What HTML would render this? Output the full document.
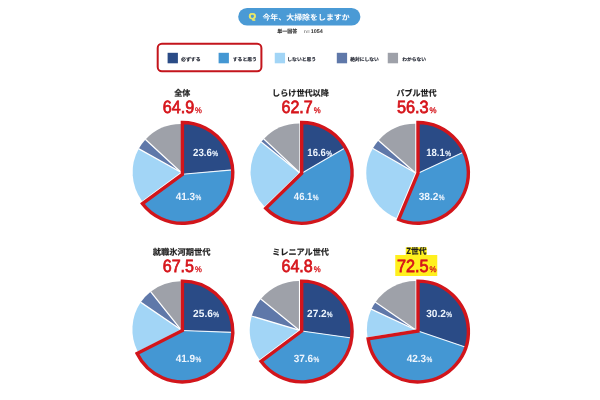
<!DOCTYPE html>
<html lang="ja"><head><meta charset="utf-8"><title>今年、大掃除をしますか</title>
<style>
html,body{margin:0;padding:0;background:#fff;}
svg{display:block}
text{font-family:"Liberation Sans","Noto Sans CJK JP",sans-serif;text-rendering:geometricPrecision;}
.jp{font-family:"Noto Sans CJK JP","Liberation Sans",sans-serif;font-weight:700;}
.q{font-weight:700;font-size:8.2px;fill:#f2ec62;stroke:#f2ec62;stroke-width:0.5px;stroke-linejoin:round}
.hd{font-size:7.6px;fill:#fff}
.sub{font-size:5px;fill:#333;font-weight:700;stroke:#333;stroke-width:0.12px}
.sub2{font-size:4.8px;fill:#555;font-weight:400}
.sub3{font-size:5.3px;fill:#333;font-weight:700}
.lg{font-size:4.8px;fill:#262a36;stroke:#262a36;stroke-width:0.15px}
.tt{font-size:8.3px;fill:#1e1e1e;stroke:#1e1e1e;stroke-width:0.2px}
.big{font-weight:400;font-size:17.8px;fill:#d6151b;stroke:#d6151b;stroke-width:0.75px}
.bp{font-weight:400;font-size:8.2px;fill:#d6151b;stroke:#d6151b;stroke-width:0.3px}
.lb{font-weight:700;font-size:10.5px;fill:#eef5fd}
.lp{font-weight:400;font-size:7.5px;fill:#e6f0fb;stroke:#e6f0fb;stroke-width:0.3px}
</style></head><body>
<svg width="600" height="400" viewBox="0 0 600 400">
<rect width="600" height="400" fill="#fff"/>
<rect x="238.2" y="7.9" width="122.2" height="17.7" rx="8.85" fill="#4a9ad5"/>
<text class="q" x="248.77" y="18.52" textLength="7.26" lengthAdjust="spacingAndGlyphs">Q</text>
<text class="jp hd" x="262.45" y="19.75" textLength="87.23" lengthAdjust="spacingAndGlyphs">今年、大掃除をしますか</text>
<text class="jp sub" x="277.35" y="32.80" textLength="19.96" lengthAdjust="spacingAndGlyphs">単一回答</text>
<text class="sub2" x="303.78" y="33.20" textLength="6.34" lengthAdjust="spacingAndGlyphs">n=</text>
<text class="sub3" x="310.81" y="33.20" textLength="12.10" lengthAdjust="spacingAndGlyphs">1054</text>
<rect x="157.7" y="43.7" width="103.7" height="27.5" rx="4.2" fill="none" stroke="#c4151c" stroke-width="2.0"/>
<rect x="167.6" y="52.8" width="10.3" height="10.5" fill="#2a4b86"/>
<text class="jp lg" x="181.00" y="60.80" textLength="19.72" lengthAdjust="spacingAndGlyphs">必ずする</text>
<rect x="218.6" y="52.8" width="10.3" height="10.5" fill="#4497d3"/>
<text class="jp lg" x="232.71" y="60.92" textLength="24.25" lengthAdjust="spacingAndGlyphs">すると思う</text>
<rect x="274.75" y="52.8" width="10.3" height="10.5" fill="#a2d5f6"/>
<text class="jp lg" x="287.32" y="60.92" textLength="28.73" lengthAdjust="spacingAndGlyphs">しないと思う</text>
<rect x="336.8" y="52.8" width="10.3" height="10.5" fill="#5f78a9"/>
<text class="jp lg" x="350.20" y="60.80" textLength="28.68" lengthAdjust="spacingAndGlyphs">絶対にしない</text>
<rect x="387.75" y="52.8" width="10.3" height="10.5" fill="#9ea1a9"/>
<text class="jp lg" x="402.27" y="60.92" textLength="23.73" lengthAdjust="spacingAndGlyphs">わからない</text>
<text class="jp tt" x="174.20" y="95.83" textLength="16.10" lengthAdjust="spacingAndGlyphs">全体</text>
<text class="big" x="162.73" y="113.00" textLength="31.43" lengthAdjust="spacingAndGlyphs">64.9</text>
<text class="bp" x="195.07" y="113.38" textLength="6.83" lengthAdjust="spacingAndGlyphs">%</text>
<path d="M180.92 172.30L142.02 200.93A48.3 48.3 0 0 1 138.74 148.76Z" fill="#a2d5f6"/>
<path d="M180.92 172.30L138.74 148.76A48.3 48.3 0 0 1 145.50 139.46Z" fill="#5f78a9"/>
<path d="M180.92 172.30L145.50 139.46A48.3 48.3 0 0 1 180.92 124.00Z" fill="#9ea1a9"/>
<path d="M180.92 172.30L138.47 148.62" stroke="#fff" stroke-width="1.25" fill="none"/>
<path d="M180.92 172.30L145.28 139.25" stroke="#fff" stroke-width="1.25" fill="none"/>
<path d="M182.40 174.30L182.40 122.50A50.4 50.4 0 0 1 232.71 169.86Z" fill="#2a4b86"/>
<path d="M182.40 174.30L232.71 169.86A50.4 50.4 0 0 1 142.49 203.68Z" fill="#4497d3"/>
<path d="M182.40 174.30L232.71 169.86" stroke="#eef6fd" stroke-width="1.1" fill="none"/>
<path d="M182.40 174.30L182.40 122.50A50.4 50.4 0 1 1 142.49 203.68Z" fill="none" stroke="#d2151b" stroke-width="3.4" stroke-linejoin="miter"/>
<text class="lb" x="193.01" y="155.68" textLength="18.93" lengthAdjust="spacingAndGlyphs">23.6</text>
<text class="lp" x="212.27" y="155.55" textLength="5.76" lengthAdjust="spacingAndGlyphs">%</text>
<text class="lb" x="175.67" y="200.47" textLength="19.51" lengthAdjust="spacingAndGlyphs">41.3</text>
<text class="lp" x="195.47" y="200.35" textLength="5.76" lengthAdjust="spacingAndGlyphs">%</text>
<text class="jp tt" x="272.07" y="95.83" textLength="56.78" lengthAdjust="spacingAndGlyphs">しらけ世代以降</text>
<text class="big" x="281.48" y="113.00" textLength="31.25" lengthAdjust="spacingAndGlyphs">62.7</text>
<text class="bp" x="313.67" y="113.38" textLength="6.91" lengthAdjust="spacingAndGlyphs">%</text>
<path d="M299.36 172.42L264.42 206.49A48.8 48.8 0 0 1 261.18 142.03Z" fill="#a2d5f6"/>
<path d="M299.36 172.42L261.18 142.03A48.8 48.8 0 0 1 263.78 139.02Z" fill="#5f78a9"/>
<path d="M299.36 172.42L263.78 139.02A48.8 48.8 0 0 1 299.36 123.62Z" fill="#9ea1a9"/>
<path d="M299.36 172.42L260.94 141.84" stroke="#fff" stroke-width="1.25" fill="none"/>
<path d="M299.36 172.42L263.56 138.81" stroke="#fff" stroke-width="1.25" fill="none"/>
<path d="M301.70 173.20L301.70 122.50A50.4 50.4 0 0 1 345.37 147.74Z" fill="#2a4b86"/>
<path d="M301.70 173.20L345.37 147.74A50.4 50.4 0 0 1 265.77 208.24Z" fill="#4497d3"/>
<path d="M301.70 173.20L345.37 147.74" stroke="#eef6fd" stroke-width="1.1" fill="none"/>
<path d="M301.70 173.20L301.70 122.50A50.4 50.4 0 1 1 265.77 208.24Z" fill="none" stroke="#d2151b" stroke-width="3.4" stroke-linejoin="miter"/>
<text class="lb" x="307.34" y="155.68" textLength="18.56" lengthAdjust="spacingAndGlyphs">16.6</text>
<text class="lp" x="326.17" y="155.55" textLength="5.76" lengthAdjust="spacingAndGlyphs">%</text>
<text class="lb" x="293.87" y="200.28" textLength="18.53" lengthAdjust="spacingAndGlyphs">46.1</text>
<text class="lp" x="312.87" y="200.15" textLength="5.76" lengthAdjust="spacingAndGlyphs">%</text>
<text class="jp tt" x="396.50" y="95.83" textLength="40.13" lengthAdjust="spacingAndGlyphs">バブル世代</text>
<text class="big" x="396.94" y="113.00" textLength="31.74" lengthAdjust="spacingAndGlyphs">56.3</text>
<text class="bp" x="429.62" y="113.38" textLength="7.01" lengthAdjust="spacingAndGlyphs">%</text>
<path d="M415.24 172.81L396.35 218.02A49.0 49.0 0 0 1 372.75 148.40Z" fill="#a2d5f6"/>
<path d="M415.24 172.81L372.75 148.40A49.0 49.0 0 0 1 378.48 140.40Z" fill="#5f78a9"/>
<path d="M415.24 172.81L378.48 140.40A49.0 49.0 0 0 1 415.24 123.81Z" fill="#9ea1a9"/>
<path d="M415.24 172.81L372.49 148.25" stroke="#fff" stroke-width="1.25" fill="none"/>
<path d="M415.24 172.81L378.26 140.20" stroke="#fff" stroke-width="1.25" fill="none"/>
<path d="M418.00 173.20L418.00 122.50A50.4 50.4 0 0 1 463.85 151.98Z" fill="#2a4b86"/>
<path d="M418.00 173.20L463.85 151.98A50.4 50.4 0 0 1 398.67 219.45Z" fill="#4497d3"/>
<path d="M418.00 173.20L463.85 151.98" stroke="#eef6fd" stroke-width="1.1" fill="none"/>
<path d="M418.00 173.20L418.00 122.50A50.4 50.4 0 1 1 398.67 219.45Z" fill="none" stroke="#d2151b" stroke-width="3.4" stroke-linejoin="miter"/>
<text class="lb" x="426.14" y="155.68" textLength="18.57" lengthAdjust="spacingAndGlyphs">18.1</text>
<text class="lp" x="445.17" y="155.55" textLength="5.76" lengthAdjust="spacingAndGlyphs">%</text>
<text class="lb" x="418.74" y="200.38" textLength="19.65" lengthAdjust="spacingAndGlyphs">38.2</text>
<text class="lp" x="438.67" y="200.25" textLength="5.76" lengthAdjust="spacingAndGlyphs">%</text>
<text class="jp tt" x="152.75" y="254.62" textLength="57.65" lengthAdjust="spacingAndGlyphs">就職氷河期世代</text>
<text class="big" x="162.74" y="271.75" textLength="31.30" lengthAdjust="spacingAndGlyphs">67.5</text>
<text class="bp" x="195.07" y="272.12" textLength="6.83" lengthAdjust="spacingAndGlyphs">%</text>
<path d="M180.69 329.46L137.66 351.38A48.3 48.3 0 0 1 140.75 302.31Z" fill="#a2d5f6"/>
<path d="M180.69 329.46L140.75 302.31A48.3 48.3 0 0 1 150.61 291.67Z" fill="#5f78a9"/>
<path d="M180.69 329.46L150.61 291.67A48.3 48.3 0 0 1 180.69 281.16Z" fill="#9ea1a9"/>
<path d="M180.69 329.46L140.50 302.14" stroke="#fff" stroke-width="1.25" fill="none"/>
<path d="M180.69 329.46L150.43 291.43" stroke="#fff" stroke-width="1.25" fill="none"/>
<path d="M182.40 330.50L182.40 281.10A50.4 50.4 0 0 1 232.79 332.40Z" fill="#2a4b86"/>
<path d="M182.40 330.50L232.79 332.40A50.4 50.4 0 0 1 137.10 353.58Z" fill="#4497d3"/>
<path d="M182.40 330.50L232.79 332.40" stroke="#eef6fd" stroke-width="1.1" fill="none"/>
<path d="M182.40 330.50L182.40 281.10A50.4 50.4 0 1 1 137.10 353.58Z" fill="none" stroke="#d2151b" stroke-width="3.4" stroke-linejoin="miter"/>
<text class="lb" x="193.11" y="316.68" textLength="19.78" lengthAdjust="spacingAndGlyphs">25.6</text>
<text class="lp" x="213.17" y="316.55" textLength="5.76" lengthAdjust="spacingAndGlyphs">%</text>
<text class="lb" x="175.67" y="361.68" textLength="19.51" lengthAdjust="spacingAndGlyphs">41.9</text>
<text class="lp" x="195.47" y="361.55" textLength="5.76" lengthAdjust="spacingAndGlyphs">%</text>
<text class="jp tt" x="272.28" y="254.62" textLength="56.65" lengthAdjust="spacingAndGlyphs">ミレニアル世代</text>
<text class="big" x="281.48" y="271.75" textLength="31.25" lengthAdjust="spacingAndGlyphs">64.8</text>
<text class="bp" x="313.67" y="272.12" textLength="6.91" lengthAdjust="spacingAndGlyphs">%</text>
<path d="M298.91 330.10L259.48 359.52A49.2 49.2 0 0 1 251.75 316.08Z" fill="#a2d5f6"/>
<path d="M298.91 330.10L251.75 316.08A49.2 49.2 0 0 1 260.81 298.98Z" fill="#5f78a9"/>
<path d="M298.91 330.10L260.81 298.98A49.2 49.2 0 0 1 298.91 280.90Z" fill="#9ea1a9"/>
<path d="M298.91 330.10L251.47 315.99" stroke="#fff" stroke-width="1.25" fill="none"/>
<path d="M298.91 330.10L260.57 298.79" stroke="#fff" stroke-width="1.25" fill="none"/>
<path d="M301.70 331.00L301.70 281.10A50.4 50.4 0 0 1 351.69 337.95Z" fill="#2a4b86"/>
<path d="M301.70 331.00L351.69 337.95A50.4 50.4 0 0 1 261.06 361.31Z" fill="#4497d3"/>
<path d="M301.70 331.00L351.69 337.95" stroke="#eef6fd" stroke-width="1.1" fill="none"/>
<path d="M301.70 331.00L301.70 281.10A50.4 50.4 0 1 1 261.06 361.31Z" fill="none" stroke="#d2151b" stroke-width="3.4" stroke-linejoin="miter"/>
<text class="lb" x="307.11" y="316.80" textLength="19.56" lengthAdjust="spacingAndGlyphs">27.2</text>
<text class="lp" x="326.87" y="316.55" textLength="5.76" lengthAdjust="spacingAndGlyphs">%</text>
<text class="lb" x="293.74" y="361.68" textLength="19.37" lengthAdjust="spacingAndGlyphs">37.6</text>
<text class="lp" x="313.47" y="361.55" textLength="5.76" lengthAdjust="spacingAndGlyphs">%</text>
<rect x="405.75" y="247.2" width="21" height="8" fill="#fff01e"/>
<rect x="395.25" y="255" width="42" height="21" fill="#fff01e"/>
<text class="jp tt" x="406.24" y="254.12" textLength="20.23" lengthAdjust="spacingAndGlyphs">Z世代</text>
<text class="big" x="396.99" y="271.75" textLength="31.65" lengthAdjust="spacingAndGlyphs">72.5</text>
<text class="bp" x="429.62" y="272.12" textLength="7.01" lengthAdjust="spacingAndGlyphs">%</text>
<path d="M415.48 329.70L367.48 337.30A48.6 48.6 0 0 1 371.38 309.28Z" fill="#a2d5f6"/>
<path d="M415.48 329.70L371.38 309.28A48.6 48.6 0 0 1 375.46 302.13Z" fill="#5f78a9"/>
<path d="M415.48 329.70L375.46 302.13A48.6 48.6 0 0 1 415.48 281.10Z" fill="#9ea1a9"/>
<path d="M415.48 329.70L371.10 309.16" stroke="#fff" stroke-width="1.25" fill="none"/>
<path d="M415.48 329.70L375.21 301.96" stroke="#fff" stroke-width="1.25" fill="none"/>
<path d="M418.00 331.00L418.00 281.10A50.4 50.4 0 0 1 465.88 347.23Z" fill="#2a4b86"/>
<path d="M418.00 331.00L465.88 347.23A50.4 50.4 0 0 1 368.15 338.90Z" fill="#4497d3"/>
<path d="M418.00 331.00L465.88 347.23" stroke="#eef6fd" stroke-width="1.1" fill="none"/>
<path d="M418.00 331.00L418.00 281.10A50.4 50.4 0 1 1 368.15 338.90Z" fill="none" stroke="#d2151b" stroke-width="3.4" stroke-linejoin="miter"/>
<text class="lb" x="426.24" y="316.68" textLength="19.65" lengthAdjust="spacingAndGlyphs">30.2</text>
<text class="lp" x="446.17" y="316.55" textLength="5.76" lengthAdjust="spacingAndGlyphs">%</text>
<text class="lb" x="406.67" y="361.68" textLength="19.51" lengthAdjust="spacingAndGlyphs">42.3</text>
<text class="lp" x="426.47" y="361.55" textLength="5.76" lengthAdjust="spacingAndGlyphs">%</text>
</svg></body></html>
